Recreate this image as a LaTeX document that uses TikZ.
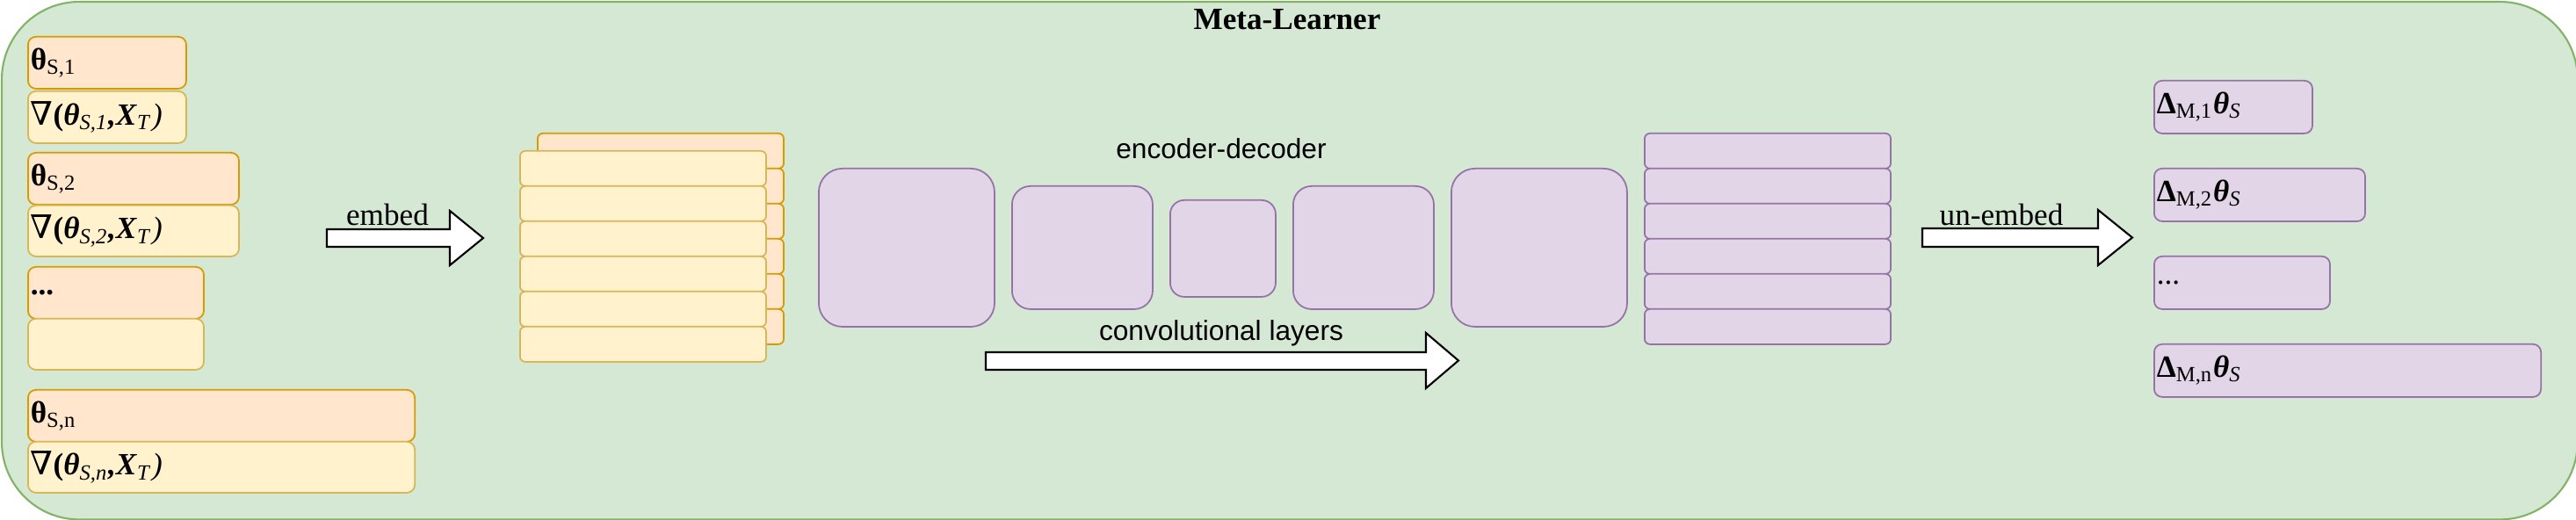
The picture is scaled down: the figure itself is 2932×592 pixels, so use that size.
\documentclass[tikz,border=0pt]{standalone}
\usepackage{fontspec}
\setmainfont{Liberation Serif}
\setsansfont{Liberation Sans}
\newfontfamily\nablafont[Scale=1.05]{DejaVu Serif}
\usetikzlibrary{positioning}

\definecolor{mlfill}{HTML}{D5E8D4}
\definecolor{mlline}{HTML}{82B366}
\definecolor{orfill}{HTML}{FFE6CC}
\definecolor{orline}{HTML}{D79B00}
\definecolor{yefill}{HTML}{FFF2CC}
\definecolor{yeline}{HTML}{D6B656}
\definecolor{pufill}{HTML}{E1D5E7}
\definecolor{puline}{HTML}{9673A6}

\newcommand{\thS}[1]{\textbf{θ}\textsubscript{S,#1}}
\newcommand{\gradS}[1]{{\nablafont ∇}\textbf{(\textit{θ}}\textsubscript{\textit{S,#1}}\textbf{\textit{,X}}\textsubscript{\textit{T}}\textit{)}}
\newcommand{\dltM}[1]{\textbf{Δ}\textsubscript{M,#1}\textbf{\textit{θ}}\textsubscript{\textit{S}}}

\begin{document}
\begin{tikzpicture}[x=0.01cm, y=-0.01cm, line width=0.5pt,
    box/.style={draw, anchor=north west, inner sep=0pt, rounded corners=0.09cm},
    orbox/.style={box, draw=orline, fill=orfill},
    yebox/.style={box, draw=yeline, fill=yefill},
    pubox/.style={box, draw=puline, fill=pufill},
    lbl/.style={anchor=west, inner sep=0pt},
    sanslbl/.style={inner sep=0pt, font=\sffamily\fontsize{9}{11}\selectfont},
    bigarrow/.style={draw=black, fill=white, line width=0.6pt}]
    \useasboundingbox (0,0) rectangle (2932,592);

    % Rahmen
    \node[box, draw=mlline, fill=mlfill, line width=0.6pt, rounded corners=0.88cm,
        minimum width=29.3cm, minimum height=5.89cm] (meta) at (1,1) {};
    \node[inner sep=0pt] (title) at (1465,22.5) {\textbf{Meta-Learner}};

    % Parameter und Gradienten
    \node[orbox, minimum width=1.8cm, minimum height=0.59cm] (th1) at (31,41) {};
    \node[yebox, minimum width=1.8cm, minimum height=0.59cm] (gr1) at (31,103) {};
    \node[orbox, minimum width=2.4cm, minimum height=0.59cm] (th2) at (31,173) {};
    \node[yebox, minimum width=2.4cm, minimum height=0.58cm] (gr2) at (31,233) {};
    \node[orbox, minimum width=2.0cm, minimum height=0.59cm] (thd) at (31,303) {};
    \node[yebox, minimum width=2.0cm, minimum height=0.58cm] (grd) at (31,362) {};
    \node[orbox, minimum width=4.4cm, minimum height=0.59cm] (thn) at (31,443) {};
    \node[yebox, minimum width=4.4cm, minimum height=0.58cm] (grn) at (31,502) {};
    \node[lbl] (th1t) at ([xshift=0.03cm]th1.west) {\thS{1}};
    \node[lbl] (gr1t) at ([xshift=0.03cm]gr1.west) {\gradS{1}};
    \node[lbl] (th2t) at ([xshift=0.03cm]th2.west) {\thS{2}};
    \node[lbl] (gr2t) at ([xshift=0.03cm]gr2.west) {\gradS{2}};
    \node[lbl] (thdt) at ([xshift=0.03cm]thd.west) {\textbf{...}};
    \node[lbl] (thnt) at ([xshift=0.03cm]thn.west) {\thS{n}};
    \node[lbl] (grnt) at ([xshift=0.03cm]grn.west) {\gradS{n}};

    % embed
    \draw[bigarrow] (372,261) -- (512,261) -- (512,240) -- (550,271) -- (512,302) -- (512,281) -- (372,281) -- cycle;
    \node[inner sep=0pt] (embedt) at (441,244) {embed};

    % Einbettung
    \foreach \i in {0,...,5}
        \node[orbox, minimum width=2.8cm, minimum height=0.4cm, rounded corners=0.06cm] (emb\i) at (611,151+40*\i) {};
    \foreach \i in {0,...,5}
        \node[yebox, minimum width=2.8cm, minimum height=0.4cm, rounded corners=0.06cm] (grad\i) at (591,171+40*\i) {};

    % encoder-decoder
    \node[pubox, minimum width=2.0cm, minimum height=1.8cm, rounded corners=0.27cm] (enc1) at (931,191) {};
    \node[pubox, minimum width=1.6cm, minimum height=1.4cm, rounded corners=0.21cm] (enc2) at (1151,211) {};
    \node[pubox, minimum width=1.2cm, minimum height=1.1cm, rounded corners=0.16cm] (bott) at (1331,227) {};
    \node[pubox, minimum width=1.6cm, minimum height=1.4cm, rounded corners=0.21cm] (dec1) at (1471,211) {};
    \node[pubox, minimum width=2.0cm, minimum height=1.8cm, rounded corners=0.27cm] (dec2) at (1651,191) {};
    \node[sanslbl] (enct) at (1390,169.5) {encoder-decoder};
    \node[sanslbl] (convt) at (1390,379) {convolutional layers};
    \draw[bigarrow] (1122,401) -- (1623,401) -- (1623,379) -- (1660,410.5) -- (1623,442) -- (1623,421) -- (1122,421) -- cycle;

    % Ausgabe
    \foreach \i in {0,...,5}
        \node[pubox, minimum width=2.8cm, minimum height=0.4cm, rounded corners=0.06cm] (out\i) at (1871,151+40*\i) {};
    \draw[bigarrow] (2188,260) -- (2388,260) -- (2388,239) -- (2427,270.5) -- (2388,302) -- (2388,281) -- (2188,281) -- cycle;
    \node[inner sep=0pt] (unembedt) at (2278,244) {un-embed};

    \node[pubox, minimum width=1.8cm, minimum height=0.6cm] (d1) at (2451,91) {};
    \node[pubox, minimum width=2.4cm, minimum height=0.6cm] (d2) at (2451,191) {};
    \node[pubox, minimum width=2.0cm, minimum height=0.6cm] (dd) at (2451,291) {};
    \node[pubox, minimum width=4.4cm, minimum height=0.6cm] (dn) at (2451,391) {};
    \node[lbl] (d1t) at ([xshift=0.03cm]d1.west) {\dltM{1}};
    \node[lbl] (d2t) at ([xshift=0.03cm]d2.west) {\dltM{2}};
    \node[lbl] (ddt) at ([xshift=0.03cm]dd.west) {...};
    \node[lbl] (dnt) at ([xshift=0.03cm]dn.west) {\dltM{n}};
\end{tikzpicture}
\end{document}
